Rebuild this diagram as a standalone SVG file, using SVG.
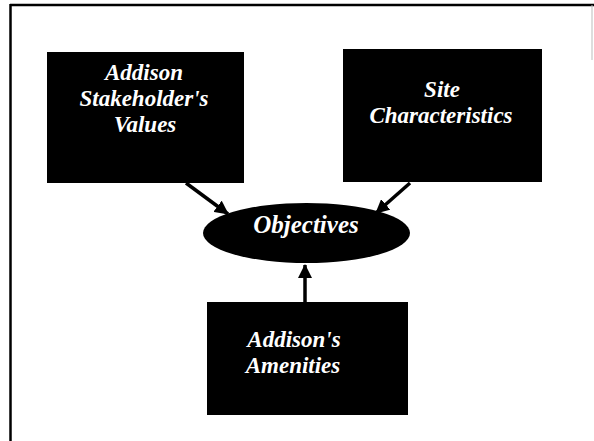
<svg xmlns="http://www.w3.org/2000/svg" width="594" height="441" viewBox="0 0 594 441">
  <style>
    .node { fill: #000; }
    .lbl { fill: #fff; font-family: "Liberation Serif", "Times New Roman", serif; font-style: italic; font-weight: bold; font-size: 23px; text-anchor: middle; }
    .big { font-size: 25px; }
    .edge { stroke: #000; stroke-width: 3.5; fill: none; marker-end: url(#ah); }
  </style>
  <defs>
    <marker id="ah" markerUnits="userSpaceOnUse" markerWidth="14" markerHeight="14" refX="13" refY="7" orient="auto">
      <path d="M0,0 L14,7 L0,14 Z" fill="#000"/>
    </marker>
  </defs>
  <rect x="0" y="0" width="594" height="441" fill="#fff"/>
  <g id="frame">
    <line x1="10" y1="5" x2="594" y2="5" stroke="#000" stroke-width="2.5"/>
    <line x1="10.5" y1="4" x2="10.5" y2="441" stroke="#000" stroke-width="2.5"/>
    <line x1="592" y1="5" x2="592" y2="60" stroke="#bbb" stroke-width="1"/>
  </g>
  <g id="connectors">
    <line class="edge" x1="186" y1="183" x2="228" y2="214"/>
    <line class="edge" x1="410" y1="183" x2="376" y2="213"/>
    <line class="edge" x1="305" y1="302" x2="305" y2="265"/>
  </g>
  <g id="values">
    <rect class="node" x="47" y="52" width="197" height="131"/>
    <text class="lbl" x="144" y="80">Addison</text>
    <text class="lbl" x="144" y="106">Stakeholder's</text>
    <text class="lbl" x="145" y="132">Values</text>
  </g>
  <g id="site">
    <rect class="node" x="343" y="49" width="199" height="133"/>
    <text class="lbl" x="442" y="97">Site</text>
    <text class="lbl" x="441" y="123">Characteristics</text>
  </g>
  <g id="objectives">
    <ellipse class="node" cx="306.5" cy="233" rx="103.5" ry="30"/>
    <text class="lbl big" x="306" y="233">Objectives</text>
  </g>
  <g id="amenities">
    <rect class="node" x="207" y="302" width="201" height="113"/>
    <text class="lbl" x="294" y="347">Addison's</text>
    <text class="lbl" x="293" y="373">Amenities</text>
  </g>
</svg>
